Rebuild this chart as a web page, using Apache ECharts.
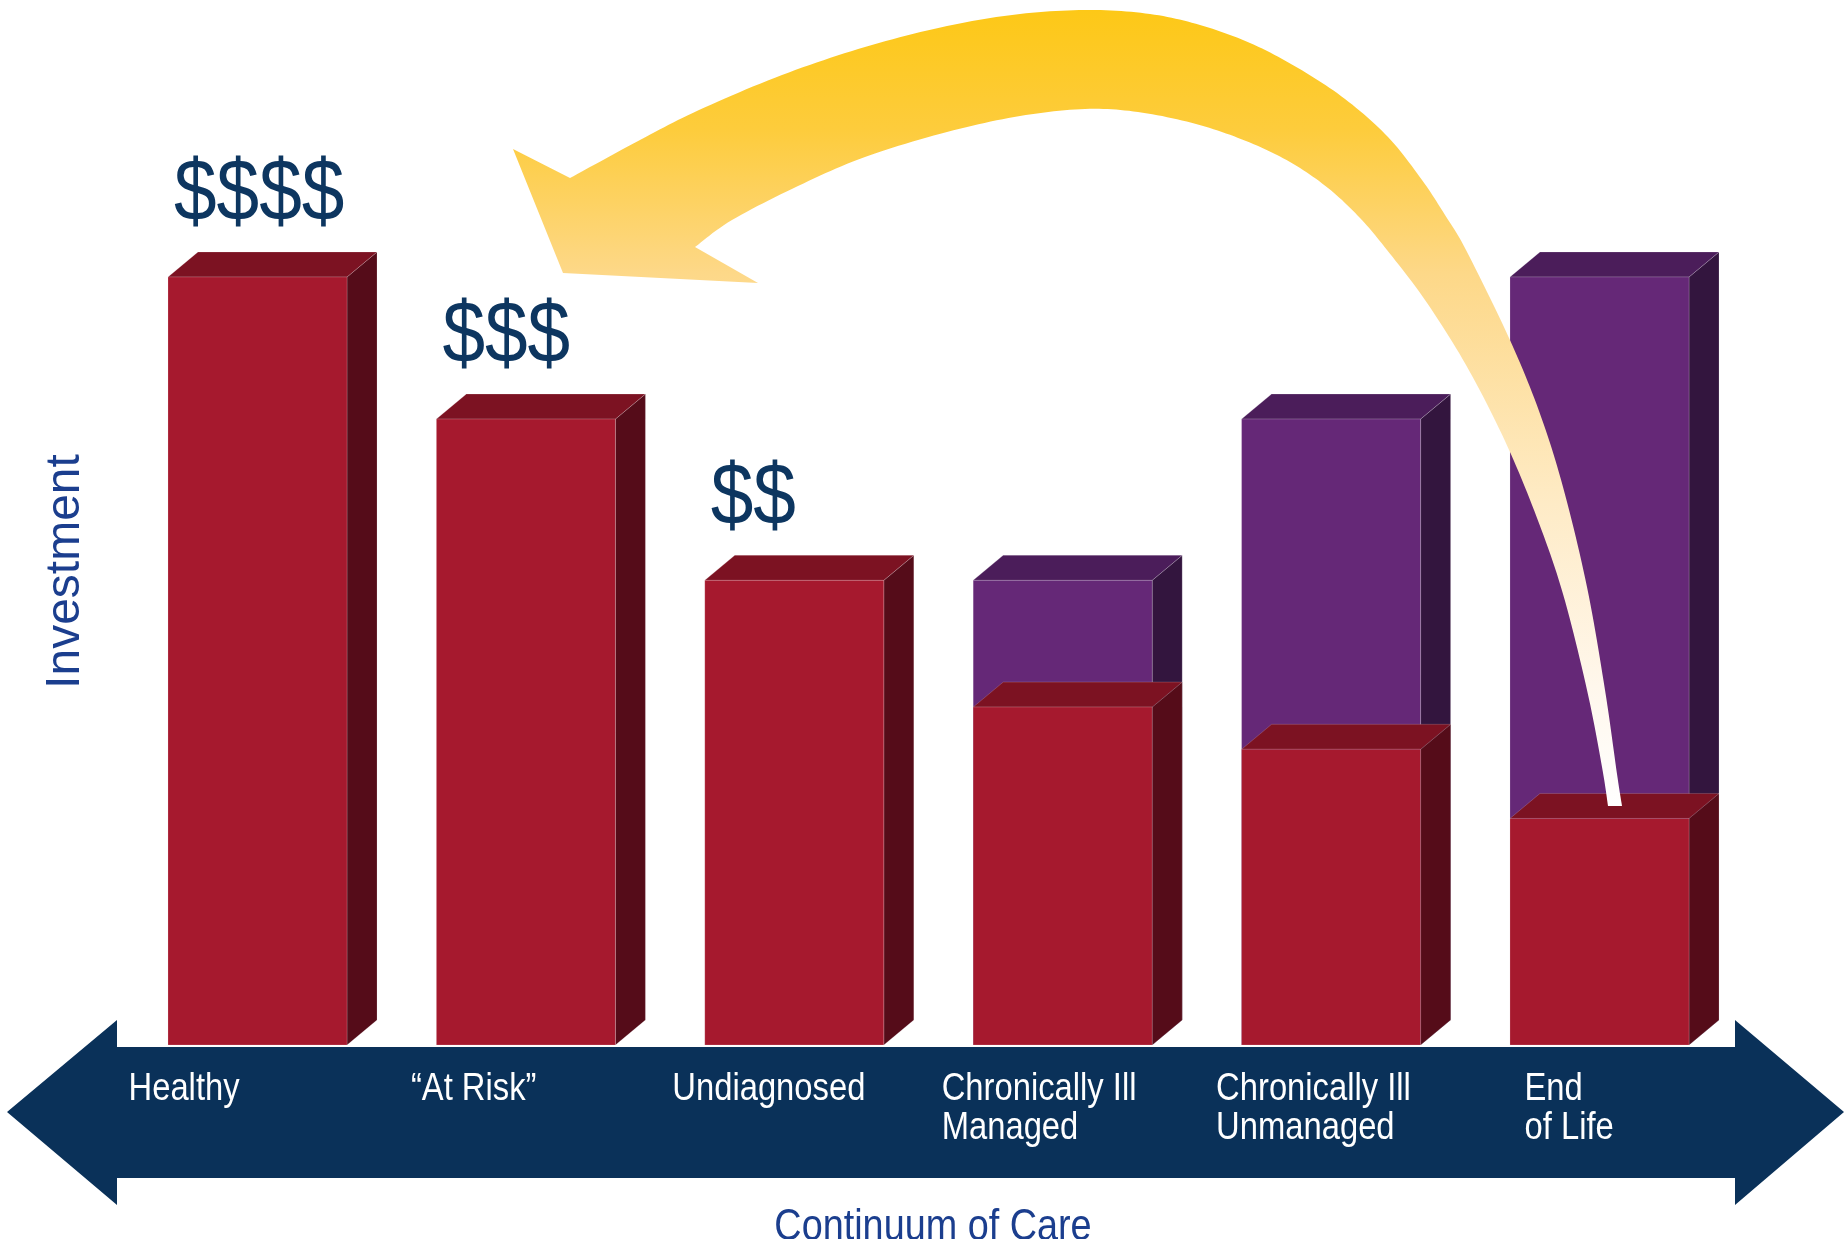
<!DOCTYPE html>
<html>
<head>
<meta charset="utf-8">
<script src="https://cdn.jsdelivr.net/npm/echarts/dist/echarts.min.js"></script>
<style>
  html, body { margin: 0; padding: 0; background: #ffffff; }
  #chart { width: 1845px; height: 1239px; }
</style>
</head>
<body>
<div id="chart"></div>
<script>
// ---------------- data ----------------
const categories = ['Healthy', '\u201CAt Risk\u201D', 'Undiagnosed', 'Chronically Ill\nManaged', 'Chronically Ill\nUnmanaged', 'End\nof Life'];
const careInvestment = [100, 81.5, 60.5, 44, 38.5, 29.5];      // red bars
const totalCost = [null, null, null, 60.5, 81.5, 100];          // purple bars (behind)
const dollarLabels = ['$$$$', '$$$', '$$', '', '', ''];
const yAxisTitle = 'Investment';
const xAxisTitle = 'Continuum of Care';

// ---------------- layout / style ----------------
const FONT = '"Liberation Sans", Arial, Helvetica, sans-serif';
const BAR_RATIO = 0.667;
const DEPTH_X = 30, DEPTH_Y = 25;
const RED = { front: '#a6192e', top: '#7c1222', side: '#550c19' };
const PURPLE = { front: '#652877', top: '#4b1d5a', side: '#33153e' };
const labelShiftX = [-129, -115, -122, -121, -115, -75];

function box(api, colors, labelText) {
  const x = api.value(0), v = api.value(1);
  if (v == null || isNaN(v)) return null;
  const base = api.coord([x, 0]);
  const top = api.coord([x, v]);
  const bw = api.size([1, 0])[0] * BAR_RATIO;
  const l = base[0] - bw / 2, r = base[0] + bw / 2;
  const yT = top[1], yB = base[1];
  const edge = 'rgba(255,255,255,0.22)';
  const children = [
    { type: 'polygon', shape: { points: [[r, yT], [r + DEPTH_X, yT - DEPTH_Y], [r + DEPTH_X, yB - DEPTH_Y], [r, yB]] },
      style: { fill: colors.side, stroke: edge, lineWidth: 0.8 } },
    { type: 'polygon', shape: { points: [[l, yT], [l + DEPTH_X, yT - DEPTH_Y], [r + DEPTH_X, yT - DEPTH_Y], [r, yT]] },
      style: { fill: colors.top, stroke: edge, lineWidth: 0.8 } },
    { type: 'rect', shape: { x: l, y: yT, width: bw, height: yB - yT },
      style: { fill: colors.front, stroke: edge, lineWidth: 0.8 } }
  ];
  if (labelText) {
    children.push({ type: 'text', x: l + 6, y: yT - 81, scaleX: 0.87,
      style: { text: labelText, fill: '#0d3660', font: '88px ' + FONT, align: 'left', verticalAlign: 'middle' } });
  }
  return { type: 'group', children: children };
}

// ---------------- yellow arrow (decoration) ----------------
function smoothPts(pts) {
  const out = [];
  for (let i = 0; i < pts.length - 1; i++) {
    const p0 = pts[i - 1] || pts[i], p1 = pts[i], p2 = pts[i + 1], p3 = pts[i + 2] || pts[i + 1];
    const c1 = [p1[0] + (p2[0] - p0[0]) / 6, p1[1] + (p2[1] - p0[1]) / 6];
    const c2 = [p2[0] - (p3[0] - p1[0]) / 6, p2[1] - (p3[1] - p1[1]) / 6];
    for (let k = 0; k < 12; k++) {
      const t = k / 12, u = 1 - t;
      out.push([
        u*u*u*p1[0] + 3*u*u*t*c1[0] + 3*u*t*t*c2[0] + t*t*t*p2[0],
        u*u*u*p1[1] + 3*u*u*t*c1[1] + 3*u*t*t*c2[1] + t*t*t*p2[1]
      ]);
    }
  }
  out.push(pts[pts.length - 1]);
  return out;
}
const innerEdge = [[695,247],[732,220],[798,186],[865,157],[947,132],[1020,116],[1085,109],[1138,112],[1196,124],[1246,141],[1290,162],[1328,188],[1360,218],[1387,250],[1425,300],[1466,365],[1505,441],[1537,518],[1563,594],[1587,690],[1602,767],[1608,806]];
const outerEdge = [[1622,806],[1617,774],[1605,690],[1587,587],[1563,487],[1539,411],[1509,338],[1466,250],[1445,215],[1422,180],[1388,137],[1345,99],[1298,68],[1250,43],[1200,25],[1150,14],[1090,10],[1020,14],[947,26],[865,47],[782,75],[699,110],[640,140],[570,178]];
const arrowPoints = [[513,149],[563,273],[758,283]].concat(smoothPts(innerEdge), smoothPts(outerEdge));

const chart = echarts.init(document.getElementById('chart'), null, { renderer: 'canvas' });
chart.setOption({
  animation: false,
  backgroundColor: '#ffffff',
  grid: { left: 123.3, right: 111.3, top: 277, bottom: 194 },
  xAxis: { type: 'category', data: categories, axisLine: { show: false }, axisTick: { show: false }, axisLabel: { show: false }, splitLine: { show: false } },
  yAxis: { type: 'value', min: 0, max: 100, show: false },
  graphic: [
    { type: 'polygon', z: 0, silent: true,
      shape: { points: [[7,1112],[117,1020],[117,1047],[1735,1047],[1735,1020],[1844,1112],[1735,1205],[1735,1178],[117,1178],[117,1205]] },
      style: { fill: '#0a3159' } },
    { type: 'text', z: 10, x: 66, y: 571.5, rotation: Math.PI / 2,
      style: { text: yAxisTitle, fill: '#1b3e8e', font: '48px ' + FONT, align: 'center', verticalAlign: 'middle' } },
    { type: 'text', z: 10, x: 933, y: 1228, scaleX: 0.84,
      style: { text: xAxisTitle, fill: '#1b3e8e', font: '45px ' + FONT, align: 'center', verticalAlign: 'middle' } },
    { type: 'polygon', z: 100, silent: true,
      shape: { points: arrowPoints },
      style: { fill: new echarts.graphic.LinearGradient(0, 0, 0, 1, [
        { offset: 0, color: '#fdc817' }, { offset: 0.15, color: '#fdcc3c' }, { offset: 0.33, color: '#fdd888' },
        { offset: 0.62, color: '#feebc6' }, { offset: 0.85, color: '#fff7ec' }, { offset: 1, color: '#ffffff' }]) } }
  ],
  series: [
    { type: 'custom', name: 'Total cost', silent: true, z: 2,
      data: totalCost.map((v, i) => [i, v]),
      renderItem: (params, api) => box(api, PURPLE, null) },
    { type: 'custom', name: 'Investment', silent: true, z: 3,
      data: careInvestment.map((v, i) => [i, v]),
      renderItem: (params, api) => box(api, RED, dollarLabels[api.value(0)]) },
    { type: 'custom', name: 'Categories', silent: true, z: 5,
      data: categories.map((c, i) => [i, 0]),
      renderItem: (params, api) => {
        const i = api.value(0);
        const p = api.coord([i, 0]);
        const lines = categories[i].split('\n');
        return { type: 'group', children: lines.map((t, k) => ({
          type: 'text', x: p[0] + labelShiftX[i], y: p[1] + 44 + k * 39, scaleX: 0.84,
          style: { text: t, fill: '#ffffff', font: '39px ' + FONT, align: 'left', verticalAlign: 'middle' }
        })) };
      } }
  ]
});
</script>
</body>
</html>
